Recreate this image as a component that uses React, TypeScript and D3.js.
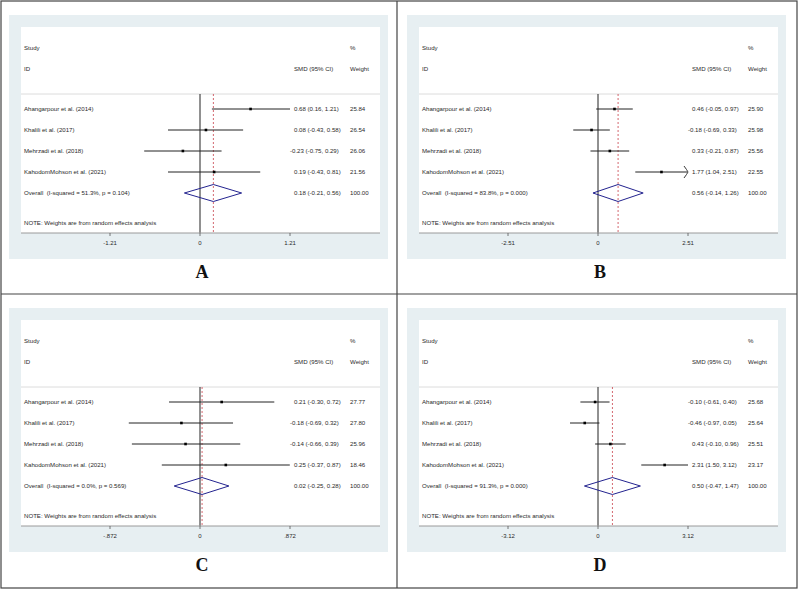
import * as d3 from "d3"

const studies = [
  "Ahangarpour et al. (2014)",
  "Khalili et al. (2017)",
  "Mehrzadi et al. (2018)",
  "KahodomMohson et al. (2021)",
]

// panel A
const smdA = [0.68, 0.08, -0.23, 0.19]
const lowA = [0.16, -0.43, -0.75, -0.43]
const highA = [1.21, 0.58, 0.29, 0.81]
const weightA = [25.84, 26.54, 26.06, 21.56]
const overallA = [0.18, -0.21, 0.56]
const hetA = "I-squared = 51.3%, p = 0.104"
const tickA = 1.21
const tickLabelsA = ["-1.21", "0", "1.21"]
const arrowA = [false, false, false, false]

// panel B
const smdB = [0.46, -0.18, 0.33, 1.77]
const lowB = [-0.05, -0.69, -0.21, 1.04]
const highB = [0.97, 0.33, 0.87, 2.51]
const weightB = [25.9, 25.98, 25.56, 22.55]
const overallB = [0.56, -0.14, 1.26]
const hetB = "I-squared = 83.8%, p = 0.000"
const tickB = 2.51
const tickLabelsB = ["-2.51", "0", "2.51"]
const arrowB = [false, false, false, true]

// panel C
const smdC = [0.21, -0.18, -0.14, 0.25]
const lowC = [-0.3, -0.69, -0.66, -0.37]
const highC = [0.72, 0.32, 0.39, 0.87]
const weightC = [27.77, 27.8, 25.96, 18.46]
const overallC = [0.02, -0.25, 0.28]
const hetC = "I-squared = 0.0%, p = 0.569"
const tickC = 0.872
const tickLabelsC = ["-.872", "0", ".872"]
const arrowC = [false, false, false, false]

// panel D
const smdD = [-0.1, -0.46, 0.43, 2.31]
const lowD = [-0.61, -0.97, -0.1, 1.5]
const highD = [0.4, 0.05, 0.96, 3.12]
const weightD = [25.68, 25.64, 25.51, 23.17]
const overallD = [0.5, -0.47, 1.47]
const hetD = "I-squared = 91.3%, p = 0.000"
const tickD = 3.12
const tickLabelsD = ["-3.12", "0", "3.12"]
const arrowD = [false, false, false, false]

const FONT = "'Liberation Sans', Arial, sans-serif"
const TEXT = "#2a2a2a"

type PanelProps = {
  letter: string
  x0: number
  y0: number
  smd: number[]
  low: number[]
  high: number[]
  weight: number[]
  overall: number[]
  het: string
  tick: number
  tickLabels: string[]
  arrow: boolean[]
}

function ciText(e: number, l: number, h: number) {
  return `${e.toFixed(2)} (${l.toFixed(2)}, ${h.toFixed(2)})`
}

function Panel(p: PanelProps) {
  const x = d3.scaleLinear().domain([-2 * p.tick, 2 * p.tick]).range([18, 378])
  const y = d3
    .scalePoint<string>()
    .domain([...studies, "Overall"])
    .range([109, 193])

  const sepY = 94
  const axisY = 233
  const smdX = 292
  const wX = 348
  const labelX = 22
  const ticks = [-p.tick, 0, p.tick]

  const [oe, ol, oh] = p.overall
  const oy = y("Overall") as number
  const diamond = d3.line()([
    [x(ol), oy],
    [x(oe), oy - 8.5],
    [x(oh), oy],
    [x(oe), oy + 8.5],
    [x(ol), oy],
  ])

  const fs = 6.1

  return (
    <g transform={`translate(${p.x0},${p.y0})`} fontFamily={FONT}>
      <rect x={7} y={15} width={379} height={244} fill="#e7eff2" />
      <rect x={19} y={27} width={359} height={axisY - 27} fill="#ffffff" />

      <text x={labelX} y={48} dy="0.35em" fontSize={fs} fill={TEXT}>Study</text>
      <text x={labelX} y={69} dy="0.35em" fontSize={fs} fill={TEXT}>ID</text>
      <text x={smdX} y={69} dy="0.35em" fontSize={fs} fill={TEXT}>SMD (95% CI)</text>
      <text x={wX} y={48} dy="0.35em" fontSize={fs} fill={TEXT}>%</text>
      <text x={wX} y={69} dy="0.35em" fontSize={fs} fill={TEXT}>Weight</text>

      <line x1={19} x2={378} y1={sepY} y2={sepY} stroke="#dcdcdc" strokeWidth={1} />

      <line x1={x(0)} x2={x(0)} y1={sepY} y2={axisY} stroke="#222" strokeWidth={1} />
      <line
        x1={x(oe)}
        x2={x(oe)}
        y1={sepY}
        y2={axisY}
        stroke="#c8414b"
        strokeWidth={0.8}
        strokeDasharray="2,2"
      />

      {studies.map((s, i) => {
        const yy = y(s) as number
        const hx = x(p.high[i])
        return (
          <g key={s}>
            <text x={labelX} y={yy} dy="0.35em" fontSize={fs} fill={TEXT}>{s}</text>
            <line
              x1={x(p.low[i])}
              x2={p.arrow[i] ? hx - 1 : hx}
              y1={yy}
              y2={yy}
              stroke="#222"
              strokeWidth={1}
            />
            {p.arrow[i] && (
              <path
                d={`M${hx - 4},${yy - 6} Q${hx - 1},${yy - 2} ${hx},${yy} Q${hx - 1},${yy + 2} ${hx - 4},${yy + 6}`}
                fill="none"
                stroke="#222"
                strokeWidth={0.9}
              />
            )}
            <rect x={x(p.smd[i]) - 1.3} y={yy - 1.3} width={2.6} height={2.6} fill="#000" />
            <text
              x={smdX}
              dx={p.smd[i] < 0 ? -4 : 0}
              y={yy}
              dy="0.35em"
              fontSize={fs}
              fill={TEXT}
            >
              {ciText(p.smd[i], p.low[i], p.high[i])}
            </text>
            <text x={wX} y={yy} dy="0.35em" fontSize={fs} fill={TEXT}>
              {p.weight[i].toFixed(2)}
            </text>
          </g>
        )
      })}

      <text x={labelX} y={oy} dy="0.35em" fontSize={fs} fill={TEXT} style={{ whiteSpace: "pre" }}>
        {`Overall  (${p.het})`}
      </text>
      <path d={diamond ?? ""} fill="none" stroke="#23238f" strokeWidth={1} />
      <text x={smdX} dx={oe < 0 ? -4 : 0} y={oy} dy="0.35em" fontSize={fs} fill={TEXT}>
        {ciText(oe, ol, oh)}
      </text>
      <text x={wX} y={oy} dy="0.35em" fontSize={fs} fill={TEXT}>100.00</text>

      <text x={labelX} y={223} dy="0.35em" fontSize={fs} fill={TEXT}>
        NOTE: Weights are from random effects analysis
      </text>

      <line x1={19} x2={378} y1={axisY} y2={axisY} stroke="#9a9a9a" strokeWidth={1} />
      {ticks.map((t, i) => (
        <g key={i}>
          <line x1={x(t)} x2={x(t)} y1={axisY} y2={axisY + 3} stroke="#555" strokeWidth={0.8} />
          <text x={x(t)} y={243} dy="0.35em" textAnchor="middle" fontSize={6} fill={TEXT}>
            {p.tickLabels[i]}
          </text>
        </g>
      ))}

      <text
        x={x(0) + 2}
        y={278}
        textAnchor="middle"
        fontFamily="'Liberation Serif', 'Times New Roman', serif"
        fontWeight="bold"
        fontSize={18}
        fill="#111"
      >
        {p.letter}
      </text>
    </g>
  )
}

export default function App() {
  return (
    <svg
      width={799}
      height={589}
      style={{ position: "absolute", left: 0, top: 0, background: "#fff" }}
    >
      <Panel letter="A" x0={2} y0={0} smd={smdA} low={lowA} high={highA} weight={weightA}
        overall={overallA} het={hetA} tick={tickA} tickLabels={tickLabelsA} arrow={arrowA} />
      <Panel letter="B" x0={400} y0={0} smd={smdB} low={lowB} high={highB} weight={weightB}
        overall={overallB} het={hetB} tick={tickB} tickLabels={tickLabelsB} arrow={arrowB} />
      <Panel letter="C" x0={2} y0={293} smd={smdC} low={lowC} high={highC} weight={weightC}
        overall={overallC} het={hetC} tick={tickC} tickLabels={tickLabelsC} arrow={arrowC} />
      <Panel letter="D" x0={400} y0={293} smd={smdD} low={lowD} high={highD} weight={weightD}
        overall={overallD} het={hetD} tick={tickD} tickLabels={tickLabelsD} arrow={arrowD} />

      <g stroke="#444" strokeWidth={1.2} fill="none">
        <rect x={1} y={1} width={796} height={587} />
        <line x1={397} x2={397} y1={1} y2={588} />
        <line x1={1} x2={797} y1={294} y2={294} />
      </g>
    </svg>
  )
}
